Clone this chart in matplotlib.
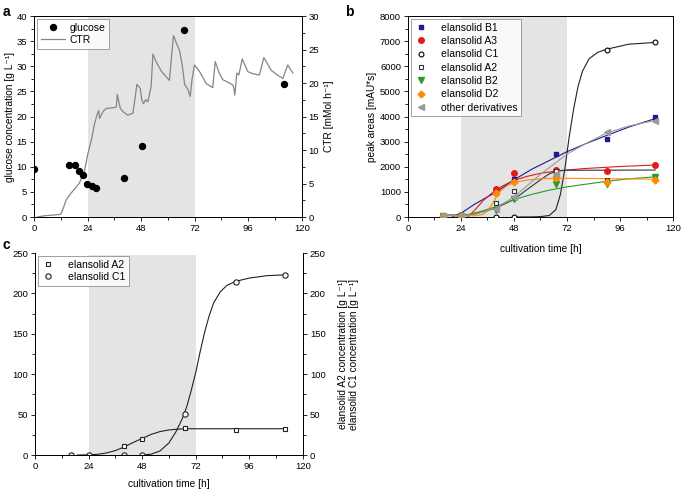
import matplotlib
matplotlib.use("Agg")
import matplotlib.pyplot as plt
from matplotlib.ticker import MultipleLocator

plt.rcParams['font.family'] = ['Liberation Sans', 'DejaVu Sans']
plt.rcParams['font.size'] = 6.8
plt.rcParams['axes.linewidth'] = 0.7

# panel a: glucose samples and CTR trace
glc_t = [0, 15.7, 18.2, 20.1, 22, 23.9, 26.1, 27.9, 40.3, 48.5, 67.2, 112.2]
glc_v = [9.5, 10.4, 10.4, 9.2, 8.3, 6.6, 6.2, 5.8, 7.7, 14.2, 37.3, 26.5]

ctr_t = [1.5, 5, 9, 12, 13, 14.5, 16.7, 18.5, 20.4, 22.7, 24.2, 25.7, 27.2, 28.2, 29.0, 29.4,
         31, 32.4, 35, 36.9, 37.3, 38.7, 40, 42, 44.3, 45.2, 46.1, 47.6, 48.3, 49.1, 50, 51,
         52.5, 53.3, 55, 57, 59.3, 60.7, 61.5, 62.5, 64, 65.2, 66.5, 67.5, 69, 70, 70.8, 71.9,
         74.2, 77.2, 80.1, 81.2, 83, 84.6, 87, 89.1, 89.5, 90, 90.9, 91.8, 93.3, 95.8, 98,
         101, 103, 106.3, 109, 111.5, 113.7, 115, 116]
ctr_v = [0, 0.2, 0.3, 0.4, 1.2, 2.6, 3.6, 4.3, 5.1, 7.0, 9.5, 11.5, 14, 15.2, 15.9, 14.7,
         15.8, 16.2, 16.3, 16.4, 18.3, 16.2, 15.7, 15.2, 15.5, 17.5, 19.8, 19.2, 17.5, 16.9, 17.5, 17.2,
         19.5, 24.3, 23.0, 21.8, 20.9, 20.4, 23.5, 27.1, 25.8, 24.9, 22.5, 19.8, 19.0, 18.0, 20.5, 22.7,
         21.7, 19.9, 19.3, 23.2, 21.5, 20.5, 20.1, 19.7, 19.3, 18.2, 21.5, 21.2, 23.6, 21.7, 21.4,
         21.2, 23.8, 21.9, 21.2, 20.7, 22.7, 22.0, 21.5]

# panel b: peak areas
pb_t = [16, 24, 40, 48, 67, 90, 112]
b1 = [50, 80, 950, 1500, 2520, 3120, 3980]
a3 = [50, 80, 1100, 1760, 1880, 1820, 2080]
c1 = [0, 0, 0, 0, 1600, 6660, 6950]
a2 = [50, 80, 560, 1050, 1850, 1480, 1550]
b2 = [50, 60, 290, 700, 1300, 1330, 1580]
d2 = [50, 60, 950, 1400, 1550, 1380, 1480]
other = [50, 60, 300, 800, 1700, 3400, 3830]

# fitted curves in panel b
b1_ft = [20, 24, 30, 36, 40, 48, 56, 64, 72, 80, 90, 100, 112]
b1_fv = [0, 150, 500, 800, 1000, 1480, 1900, 2250, 2600, 2900, 3250, 3580, 3920]
a3_ft = [27, 30, 34, 38, 42, 48, 54, 60, 68, 80, 96, 112]
a3_fv = [0, 250, 650, 950, 1200, 1460, 1620, 1740, 1840, 1930, 2010, 2070]
c1_ft = [48, 56, 60, 64, 67, 69, 71, 73, 75, 77, 79, 82, 86, 90, 100, 112]
c1_fv = [0, 5, 15, 60, 300, 900, 1900, 3200, 4300, 5200, 5800, 6300, 6560, 6680, 6880, 6950]
a2_ft = [16, 24, 30, 36, 42, 48, 54, 60, 64, 68, 72, 112]
a2_fv = [80, 80, 120, 250, 450, 700, 1100, 1480, 1720, 1840, 1860, 1870]
b2_ft = [22, 28, 34, 40, 48, 56, 64, 72, 80, 90, 100, 112]
b2_fv = [0, 100, 250, 420, 690, 900, 1070, 1200, 1300, 1420, 1520, 1600]
d2_ft = [16, 30, 34, 36, 38, 40, 42, 45, 48, 54, 60, 67, 80, 96, 112]
d2_fv = [50, 50, 100, 250, 500, 800, 1050, 1250, 1380, 1470, 1520, 1545, 1535, 1520, 1505]
ot_ft = [16, 24, 30, 36, 42, 48, 54, 60, 66, 72, 80, 90, 100, 112]
ot_fv = [50, 60, 100, 250, 480, 800, 1250, 1700, 2100, 2500, 2900, 3350, 3620, 3850]

# panel c: concentrations
pc_t = [16, 24, 40, 48, 67, 90, 112]
conc_a2 = [0, 0, 11, 20, 34, 31, 32]
conc_c1 = [0, 0, 0, 0, 51, 214, 223]
ca2_ft = [19, 24, 28, 32, 36, 40, 44, 48, 52, 56, 60, 64, 68, 80, 112]
ca2_fv = [0, 0.2, 0.8, 2.5, 5.5, 10, 15.5, 20.5, 25.5, 29, 31, 32, 32.5, 32.5, 32.5]
cc1_ft = [48, 52, 56, 60, 63, 66, 68, 70, 72, 74, 76, 78, 80, 83, 86, 90, 96, 104, 112]
cc1_fv = [0, 1, 5, 15, 28, 45, 60, 80, 102, 128, 152, 172, 188, 202, 210, 215, 219, 222, 223]

shade = '#e4e4e4'
inv = ' [g L\u207b\u00b9]'
fig = plt.figure(figsize=(6.85, 4.95), dpi=100)


def style_ticks(ax):
    ax.tick_params(which='both', direction='out', width=0.6, pad=2)
    ax.tick_params(which='major', length=3)
    ax.tick_params(which='minor', length=2)


def style_x(ax):
    ax.set_xlim(0, 120)
    ax.xaxis.set_major_locator(MultipleLocator(24))
    ax.xaxis.set_minor_locator(MultipleLocator(12))
    style_ticks(ax)


def make_legend(ax, handles=None, labels=None, **kw):
    if handles is None:
        leg = ax.legend(loc='upper left', fontsize=7.5, frameon=True, fancybox=False,
                        edgecolor='#888888', borderaxespad=0.3, borderpad=0.35, **kw)
    else:
        leg = ax.legend(handles, labels, loc='upper left', fontsize=7.5, frameon=True,
                        fancybox=False, edgecolor='#888888', borderaxespad=0.3,
                        borderpad=0.35, **kw)
    leg.get_frame().set_linewidth(0.7)
    return leg


# ---- a ----
ax = fig.add_axes([0.0496, 0.5616, 0.391, 0.406])
ax2 = ax.twinx()
ax2.axvspan(24, 72, color=shade, lw=0, zorder=0)
ln, = ax2.plot(ctr_t, ctr_v, color='#858585', lw=0.9, label='CTR', zorder=2)
sc, = ax.plot(glc_t, glc_v, 'o', color='black', ms=4.3, label='glucose', zorder=5)
ax.set_zorder(ax2.get_zorder() + 1)
ax.patch.set_visible(False)
style_x(ax)
ax.set_ylim(0, 40)
ax.yaxis.set_major_locator(MultipleLocator(5))
ax.yaxis.set_minor_locator(MultipleLocator(2.5))
ax2.set_ylim(0, 30)
ax2.yaxis.set_major_locator(MultipleLocator(5))
ax2.yaxis.set_minor_locator(MultipleLocator(2.5))
style_ticks(ax2)
ax.set_ylabel('glucose concentration' + inv, fontsize=7.3, labelpad=1)
ax2.set_ylabel('CTR [mMol h\u207b\u00b9]', fontsize=7.3, labelpad=3)
make_legend(ax, [sc, ln], ['glucose', 'CTR'], handlelength=2.3, labelspacing=0.2,
            handletextpad=0.5)

# ---- b ----
bx = fig.add_axes([0.5956, 0.5616, 0.3869, 0.406])
bx.axvspan(24, 72, color=shade, lw=0, zorder=0)
fits = [(b1_ft, b1_fv, '#1c1c8a'), (a3_ft, a3_fv, '#e01b1b'), (c1_ft, c1_fv, '#222222'),
        (a2_ft, a2_fv, '#333333'), (b2_ft, b2_fv, '#2a9a2a'), (d2_ft, d2_fv, '#ff8c00'),
        (ot_ft, ot_fv, '#9a9a9a')]
for ft, fv, col in fits:
    bx.plot(ft, fv, color=col, lw=0.8, zorder=2)
bx.plot(pb_t, b1, 's', color='#1c1c8a', ms=3.5, label='elansolid B1', zorder=4)
bx.plot(pb_t, a3, 'o', color='#e01b1b', ms=4, label='elansolid A3', zorder=4)
bx.plot(pb_t, c1, 'o', mfc='white', mec='black', mew=0.8, ms=3.5, label='elansolid C1', zorder=4)
bx.plot(pb_t, a2, 's', mfc='white', mec='#333333', mew=0.8, ms=3.2, label='elansolid A2', zorder=4)
bx.plot(pb_t, b2, 'v', color='#2a9a2a', ms=4, label='elansolid B2', zorder=4)
bx.plot(pb_t, d2, 'D', color='#ff8c00', ms=3.5, label='elansolid D2', zorder=4)
bx.plot(pb_t, other, '<', color='#9a9a9a', ms=4, label='other derivatives', zorder=4)
style_x(bx)
bx.set_ylim(0, 8000)
bx.yaxis.set_major_locator(MultipleLocator(1000))
bx.yaxis.set_minor_locator(MultipleLocator(500))
bx.set_ylabel('peak areas [mAU*s]', fontsize=7.3, labelpad=2)
bx.set_xlabel('cultivation time [h]', fontsize=7.3, labelpad=8)
make_legend(bx, handlelength=1.2, labelspacing=0.32, handletextpad=1.3)

# ---- c ----
cx = fig.add_axes([0.0511, 0.0808, 0.391, 0.408])
cx.axvspan(24, 72, ymax=0.99, color=shade, lw=0, zorder=0)
cx.plot(ca2_ft, ca2_fv, color='#222222', lw=0.8, zorder=2)
cx.plot(cc1_ft, cc1_fv, color='#222222', lw=0.8, zorder=2)
cx.plot(pc_t, conc_a2, 's', mfc='white', mec='#222222', mew=0.8, ms=3.5, label='elansolid A2', zorder=4)
cx.plot(pc_t, conc_c1, 'o', mfc='white', mec='#222222', mew=0.8, ms=3.8, label='elansolid C1', zorder=4)
style_x(cx)
cx.set_ylim(0, 250)
cx.yaxis.set_major_locator(MultipleLocator(50))
cx.yaxis.set_minor_locator(MultipleLocator(25))
cx.spines['top'].set_visible(False)
cx.set_xlabel('cultivation time [h]', fontsize=7.3, labelpad=6)
cx2 = cx.twinx()
cx2.set_ylim(0, 250)
cx2.yaxis.set_major_locator(MultipleLocator(50))
cx2.yaxis.set_minor_locator(MultipleLocator(25))
cx2.spines['top'].set_visible(False)
style_ticks(cx2)
cx2.set_ylabel('elansolid A2 concentration' + inv + '\nelansolid C1 concentration' + inv,
               fontsize=7.3, labelpad=9, linespacing=1.05)
make_legend(cx, handlelength=1.2, labelspacing=0.2, handletextpad=1.3)

fig.text(0.004, 0.975, 'a', fontsize=10, fontweight='bold', va='center')
fig.text(0.503, 0.975, 'b', fontsize=10, fontweight='bold', va='center')
fig.text(0.004, 0.505, 'c', fontsize=10, fontweight='bold', va='center')

fig.savefig('out.png', dpi=100)
